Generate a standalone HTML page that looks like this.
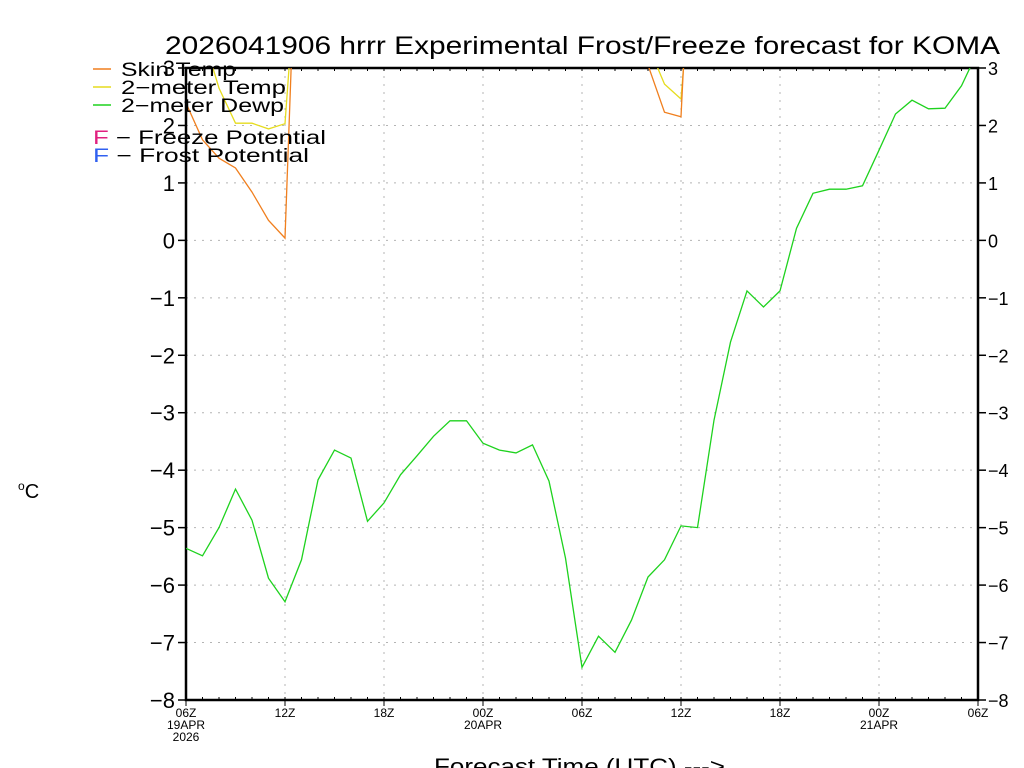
<!DOCTYPE html>
<html><head><meta charset="utf-8"><style>
html,body{margin:0;padding:0;background:#fff;}
svg{display:block;font-family:"Liberation Sans",sans-serif;}
</style></head><body>
<svg id="chart" width="1024" height="768" viewBox="0 0 1024 768">
<defs><clipPath id="plotclip"><rect x="186" y="68" width="792" height="632"/></clipPath></defs>
<text x="165" y="54" font-size="25" textLength="835" lengthAdjust="spacingAndGlyphs">2026041906 hrrr Experimental Frost/Freeze forecast for KOMA</text>
<text x="18" y="498" font-size="20"><tspan font-size="12" dy="-8">o</tspan><tspan dy="8">C</tspan></text>
<text x="434" y="774" font-size="22" textLength="291" lengthAdjust="spacingAndGlyphs">Forecast Time (UTC) ---&gt;</text>
<g id="grid"></g><g id="axes"></g><g id="series" clip-path="url(#plotclip)"></g>
<g>
<line x1="93" y1="69" x2="111" y2="69" stroke="#f07f1e" stroke-width="1.5"/>
<text x="121" y="76" font-size="19" textLength="115" lengthAdjust="spacingAndGlyphs">Skin Temp</text>
<line x1="93" y1="87" x2="111" y2="87" stroke="#e6dc1e" stroke-width="1.5"/>
<text x="121" y="94" font-size="19" textLength="165" lengthAdjust="spacingAndGlyphs">2−meter Temp</text>
<line x1="93" y1="105" x2="111" y2="105" stroke="#1ed21e" stroke-width="1.5"/>
<text x="121" y="112" font-size="19" textLength="163" lengthAdjust="spacingAndGlyphs">2−meter Dewp</text>
<text x="93" y="144" font-size="19" textLength="233" lengthAdjust="spacingAndGlyphs"><tspan fill="#e0207f">F</tspan>  −  Freeze Potential</text>
<text x="93" y="162" font-size="19" textLength="216" lengthAdjust="spacingAndGlyphs"><tspan fill="#3060f0">F</tspan>  −  Frost Potential</text>
</g>
</svg>
<script>
const hours = Array.from({length:49},(_,i)=>i);
const dewp = [-5.36,-5.49,-5.0,-4.33,-4.87,-5.88,-6.29,-5.56,-4.17,-3.65,-3.79,-4.89,-4.57,-4.08,-3.75,-3.41,-3.14,-3.14,-3.53,-3.65,-3.70,-3.56,-4.19,-5.53,-7.43,-6.89,-7.17,-6.61,-5.86,-5.56,-4.97,-5.0,-3.13,-1.77,-0.88,-1.16,-0.88,0.21,0.82,0.89,0.89,0.95,1.57,2.2,2.44,2.29,2.30,2.69,3.3];
const skin = [2.39,1.75,1.43,1.26,0.84,0.35,0.04,8,8,8,8,8,8,8,8,8,8,8,8,8,8,8,8,8,8,8,8,8,3.05,2.23,2.15,8,8,8,8,8,8,8,8,8,8,8,8,8,8,8,8,8,8];
const temp2m = [5,3.6,2.65,2.04,2.04,1.94,2.03,6,8,8,8,8,8,8,8,8,8,8,8,8,8,8,8,8,8,8,8,8,3.4,2.72,2.46,6,8,8,8,8,8,8,8,8,8,8,8,8,8,8,8,8,8];
const yTicks = [3,2,1,0,-1,-2,-3,-4,-5,-6,-7,-8];
const xTickHours = [0,6,12,18,24,30,36,42,48];
const xTickLabels = [["06Z","19APR","2026"],["12Z"],["18Z"],["00Z","20APR"],["06Z"],["12Z"],["18Z"],["00Z","21APR"],["06Z"]];

const X0=186,X1=978,Y0=700,Y1=68,YMIN=-8,YMAX=3,HMAX=48;
const xs=h=>X0+(X1-X0)*h/HMAX;
const ys=v=>Y0-(Y0-Y1)*(v-YMIN)/(YMAX-YMIN);
const NS="http://www.w3.org/2000/svg";
function mk(tag,attrs,parent){const e=document.createElementNS(NS,tag);for(const k in attrs)e.setAttribute(k,attrs[k]);parent.appendChild(e);return e;}
const grid=document.getElementById('grid'),axes=document.getElementById('axes'),series=document.getElementById('series');

yTicks.forEach(v=>{
  const y=ys(v);
  if(v>YMIN&&v<YMAX){const g=mk('line',{x1:X0,x2:X1,y1:y,y2:y,stroke:'#b4b4b4','stroke-dasharray':'2,6'},grid);
  
  }
  const t1=mk('line',{x1:X0-8,x2:X0,y1:y,y2:y,stroke:'#000','stroke-width':1.5},axes);
  
  
  const t2=mk('line',{x1:X1,x2:X1+8,y1:y,y2:y,stroke:'#000','stroke-width':1.5},axes);
  
  
  const lab=(v<0?'−':'')+Math.abs(v);
  const l=mk('text',{x:X0-11,y:y+8,'text-anchor':'end','font-size':22,'font-weight':'300'},axes);l.textContent=lab;
  
  
  const r=mk('text',{x:X1+10,y:y+7,'font-size':18},axes);r.textContent=lab;
  
  
});
xTickHours.forEach((h,i)=>{
  const x=xs(h);
  if(h>0&&h<HMAX){const g=mk('line',{x1:x,x2:x,y1:Y1,y2:Y0,stroke:'#b4b4b4','stroke-dasharray':'2,6'},grid);
  
  }
  const t=mk('line',{x1:x,x2:x,y1:Y0,y2:Y0+6,stroke:'#000'},axes);
  
  
  xTickLabels[i].forEach((s,j)=>{const tx=mk('text',{x:x,y:Y0+17+j*12,'text-anchor':'middle','font-size':12},axes);tx.textContent=s;
  
  });
});
hours.forEach(h=>{const x=xs(h);
  [[Y0-3,Y0],[Y1,Y1+3]].forEach(p=>{const m=mk('line',{x1:x,x2:x,y1:p[0],y2:p[1],stroke:'#000'},axes);
  
  });
});
const frame=mk('rect',{x:X0,y:Y1,width:X1-X0,height:Y0-Y1,fill:'none',stroke:'#000','stroke-width':2.5},axes);



function line(vals,color,name){
  const pts=hours.map(h=>xs(h).toFixed(1)+','+ys(vals[h]).toFixed(1)).join(' ');
  const p=mk('polyline',{points:pts,fill:'none',stroke:color,'stroke-width':1.3},series);
  
  
}
line(temp2m,'#e6dc1e','2m-temp-line');
line(skin,'#f07f1e','skin-temp-line');
line(dewp,'#1ed21e','2m-dewp-line');
</script>
</body></html>
